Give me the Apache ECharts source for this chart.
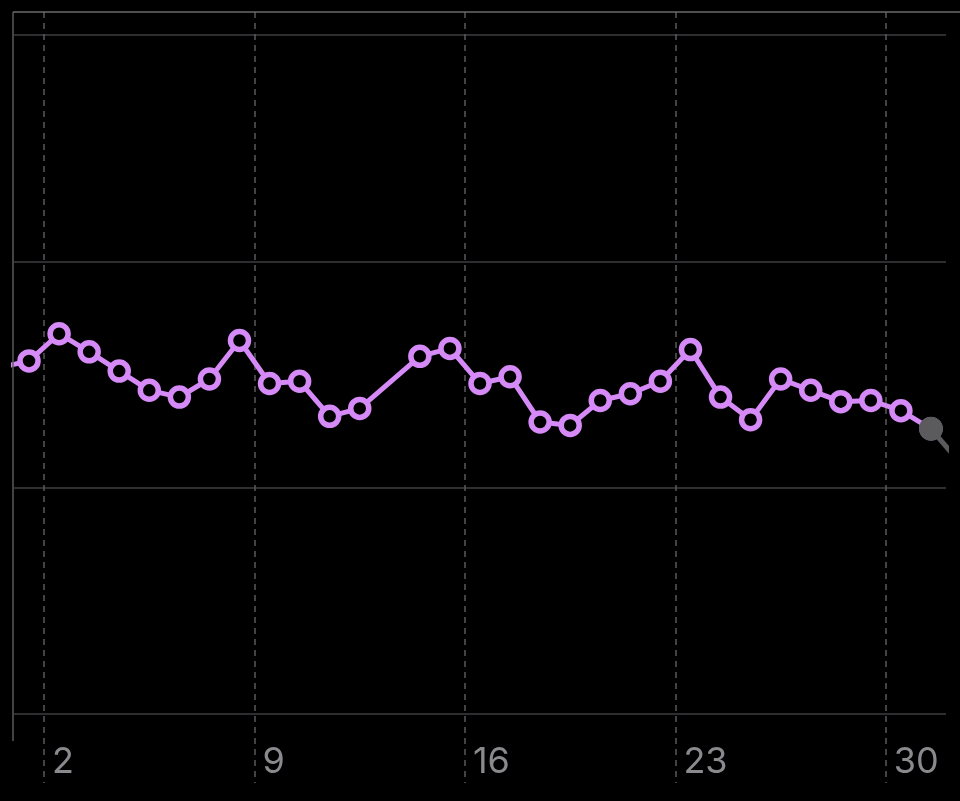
<!DOCTYPE html>
<html>
<head>
<meta charset="utf-8">
<script src="https://cdn.jsdelivr.net/npm/echarts@6/dist/echarts.min.js"></script>
<style>
html,body{margin:0;padding:0;background:#000;}
#chart{width:960px;height:801px;}
</style>
</head>
<body>
<div id="chart"></div>
<script>
// Day positions (noon of each day) and readings
const days = [0.5, 1.5, 2.5, 3.5, 4.5, 5.5, 6.5, 7.5, 8.5, 9.5, 10.5, 11.5, 12.5,
              14.5, 15.5, 16.5, 17.5, 18.5, 19.5, 20.5, 21.5, 22.5, 23.5, 24.5,
              25.5, 26.5, 27.5, 28.5, 29.5, 30.5, 31.5];
const values = [30.6, 31.2, 33.6, 32.0, 30.3, 28.6, 28.0, 29.6, 33.0, 29.2, 29.4, 26.3, 27.0,
                31.6, 32.3, 29.2, 29.8, 25.8, 25.5, 27.7, 28.3, 29.4, 32.2, 28.0,
                26.0, 29.6, 28.6, 27.6, 27.7, 26.8, 25.2];
// Current (incomplete) segment, drawn in grey
const tailDays = [31.5, 32.5];
const tailValues = [25.2, 22.1];
// Axis ticks
const xTickDays = [2, 9, 16, 23, 30];
const yGridValues = [0, 20, 40, 60];

const chart = echarts.init(document.getElementById('chart'), null, {renderer: 'canvas'});

const mainData = days.map((d, i) => [d, values[i]]);
const tailData = tailDays.map((d, i) => [d, tailValues[i]]);

chart.setOption({
  backgroundColor: '#000000',
  animation: false,
  grid: {left: 14, right: 14, top: 12, bottom: 18, containLabel: false},
  xAxis: {
    type: 'value',
    min: 1,
    max: 32,
    position: 'bottom',
    axisLine: {show: false},
    axisTick: {show: false, customValues: xTickDays},
    axisLabel: {
      show: true,
      customValues: xTickDays,
      inside: true,
      margin: 3,
      align: 'left',
      padding: [0, 0, 0, 8],
      fontSize: 36,
      fontFamily: 'Inter',
      color: '#8a8a8e'
    },
    splitLine: {
      show: true,
      lineStyle: {color: '#5a5a5c', width: 1.5, type: [6, 5]}
    }
  },
  yAxis: {
    type: 'value',
    min: -6.1,
    max: 62.03,
    axisLine: {show: false},
    axisTick: {show: false, customValues: yGridValues},
    axisLabel: {show: false},
    splitLine: {show: true, lineStyle: {color: '#3e3e40', width: 1.5}}
  },
  graphic: [
    {type: 'line', shape: {x1: 13, y1: 12, x2: 960, y2: 12}, style: {stroke: '#6a6a6c', lineWidth: 1.5}, z: 10},
    {type: 'line', shape: {x1: 13, y1: 12, x2: 13, y2: 741}, style: {stroke: '#5a5a5c', lineWidth: 1.5}, z: 10}
  ],
  series: [
    {
      type: 'line',
      data: mainData,
      clip: true,
      symbol: 'circle',
      symbolSize: 18,
      showAllSymbol: true,
      lineStyle: {color: '#d58af7', width: 5},
      itemStyle: {color: '#000000', borderColor: '#d58af7', borderWidth: 5.5},
      z: 3
    },
    {
      type: 'line',
      data: tailData,
      clip: true,
      symbol: 'circle',
      symbolSize: 24,
      showAllSymbol: true,
      lineStyle: {color: '#5b5b5d', width: 5},
      itemStyle: {color: '#5b5b5d', borderWidth: 0},
      z: 4
    }
  ]
});
</script>
</body>
</html>
